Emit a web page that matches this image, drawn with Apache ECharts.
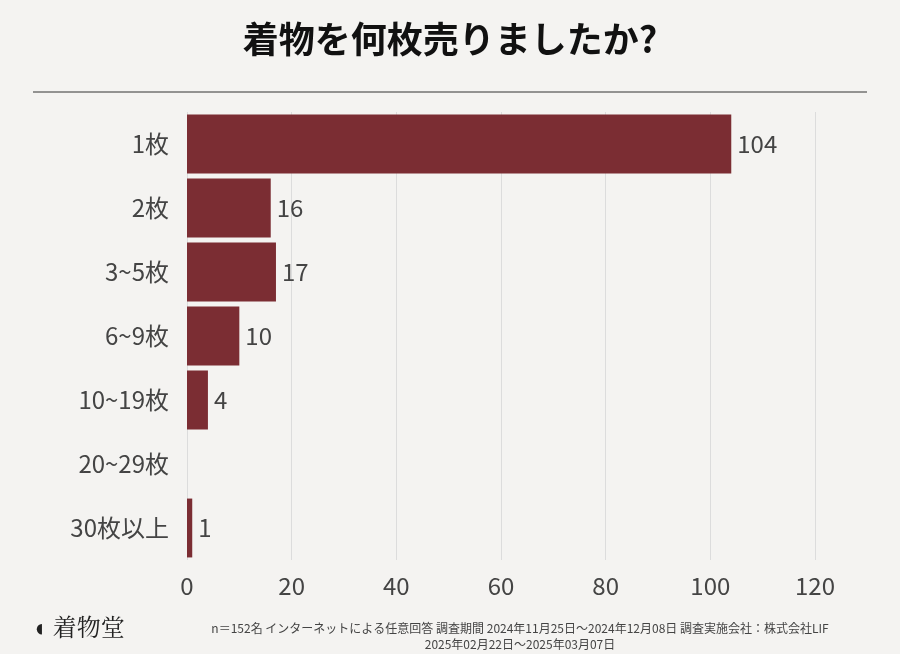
<!DOCTYPE html>
<html><head><meta charset="utf-8">
<script src="https://cdn.jsdelivr.net/npm/echarts@6/dist/echarts.min.js"></script>
<style>html,body{margin:0;padding:0;background:#f4f3f1;}#c{width:900px;height:654px;}</style>
</head><body><div id="c"></div>
<script>
const categories = ['1枚','2枚','3~5枚','6~9枚','10~19枚','20~29枚','30枚以上'];
const values = [104,16,17,10,4,0,1];
const xTicks = [0,20,40,60,80,100,120];
const chart = echarts.init(document.getElementById('c'));
const F = '"Noto Sans CJK JP","Noto Sans",sans-serif';
chart.setOption({
  backgroundColor:'#f4f3f1',
  title:{text:'着物を何枚売りましたか?',left:'center',top:16,textStyle:{fontFamily:F,fontSize:36,fontWeight:'bold',color:'#111'}},
  graphic:[
    {type:'line',shape:{x1:33,y1:92,x2:867,y2:92},style:{stroke:'#333',lineWidth:1}},
    {type:'text',left:32,top:615,style:{text:'◖ 着物堂',font:'24px "Noto Serif CJK JP",serif',fill:'#222'}},
    {type:'text',x:520,y:620,style:{text:'n＝152名 インターネットによる任意回答 調査期間 2024年11月25日～2024年12月08日 調査実施会社：株式会社LIF\n2025年02月22日～2025年03月07日',font:'12px '+F,fill:'#444',align:'center',lineHeight:16}}
  ],
  grid:{left:187,right:85,top:112,bottom:94,containLabel:false},
  xAxis:{type:'value',min:0,max:120,interval:20,
    axisLabel:{fontFamily:F,fontSize:24,color:'#444',margin:14,formatter:v=>xTicks.includes(v)?String(v):''},
    splitLine:{lineStyle:{color:'#dcdcdc'}},axisLine:{show:false},axisTick:{show:false}},
  yAxis:{type:'category',data:categories,inverse:true,
    axisLabel:{fontFamily:F,fontSize:24,color:'#444',margin:18},
    axisLine:{show:false},axisTick:{show:false}},
  series:[{type:'bar',data:values.map(v=>v===0?null:v),barCategoryGap:'8%',
    itemStyle:{color:'#7b2d33'},
    label:{show:true,position:'right',fontFamily:F,fontSize:24,color:'#444',distance:6}}]
});
</script></body></html>
